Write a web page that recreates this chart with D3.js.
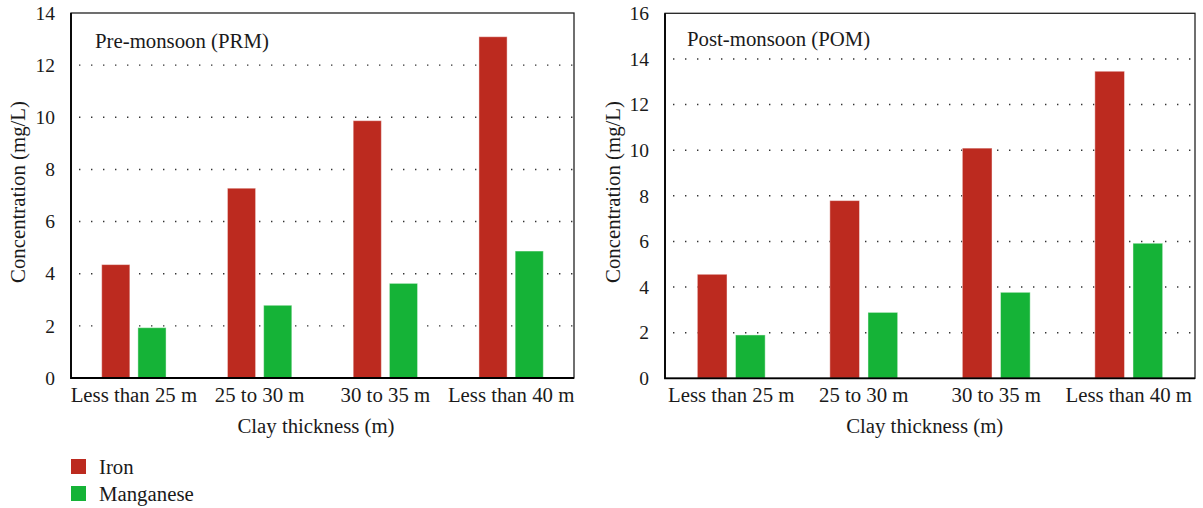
<!DOCTYPE html>
<html>
<head>
<meta charset="utf-8">
<script src="https://cdn.jsdelivr.net/npm/d3@7"></script>
<style>
    body { margin: 0; background: #fff; }
    text { font-family: "Liberation Serif", "DejaVu Serif", serif; fill: #1a1a1a; }
</style>
</head>
<body>
<div id="chart"></div>
<script>
// values
const categories = ["Less than 25 m", "25 to 30 m", "30 to 35 m", "Less than 40 m"];
const series = ["Iron", "Manganese"];
const seriesColors = ["#bc2a1f", "#15b337"];

const preIron = [4.35, 7.28, 9.87, 13.09];
const preManganese = [1.93, 2.79, 3.63, 4.87];
const postIron = [4.56, 7.79, 10.09, 13.46];
const postManganese = [1.90, 2.89, 3.77, 5.92];

const preTicks = [0, 2, 4, 6, 8, 10, 12, 14];
const postTicks = [0, 2, 4, 6, 8, 10, 12, 14, 16];

const fontSize = 20.8;
const tickFontSize = 19.5;

const svg = d3.select("#chart").append("svg")
    .attr("width", 1203)
    .attr("height", 508);

class barPanel {
    constructor(svg, box, opts) {
        this.svg = svg;
        this.box = box; // [left, top, right, bottom]
        this.opts = opts;
    }

    draw() {
        let [left, top, right, bottom] = this.box;
        let opts = this.opts;
        let g = this.svg.append("g");

        let x = d3.scaleBand().domain(categories).range([left, right]);
        let bw = x.bandwidth();
        // two bars per group, small gap between them
        let x1 = d3.scaleBand().domain(series)
            .range([-0.256 * bw, 0.256 * bw])
            .paddingInner(0.222);
        let y = d3.scaleLinear()
            .domain([0, opts.ticks[opts.ticks.length - 1]])
            .range([bottom, top]);

        // dotted grid
        g.append("g").selectAll("line")
            .data(opts.ticks.slice(1, -1))
            .join("line")
            .attr("x1", left + 8)
            .attr("x2", right)
            .attr("y1", d => y(d))
            .attr("y2", d => y(d))
            .attr("stroke", "#333")
            .attr("stroke-width", 1.4)
            .attr("stroke-dasharray", "1.4,10.6");

        // bars
        let rows = categories.map((c, i) => ({ cat: c, vals: [opts.iron[i], opts.manganese[i]] }));
        g.append("g").selectAll("g")
            .data(rows)
            .join("g")
            .attr("transform", d => "translate(" + (x(d.cat) + bw / 2) + ",0)")
            .selectAll("rect")
            .data(d => d.vals.map((v, j) => ({ s: series[j], v: v, j: j })))
            .join("rect")
            .attr("x", d => x1(d.s))
            .attr("width", x1.bandwidth())
            .attr("y", d => y(d.v))
            .attr("height", d => bottom - y(d.v))
            .attr("fill", d => seriesColors[d.j])
            .attr("stroke", "#fff")
            .attr("stroke-opacity", 0.45)
            .attr("stroke-width", 1);

        // frame
        g.append("rect")
            .attr("x", left)
            .attr("y", top)
            .attr("width", right - left)
            .attr("height", bottom - top)
            .attr("fill", "none")
            .attr("stroke", "#222")
            .attr("stroke-width", 1.3);
        g.append("path")
            .attr("d", "M" + left + "," + top + "V" + bottom + "H" + right)
            .attr("fill", "none")
            .attr("stroke", "#000")
            .attr("stroke-width", 1.8);

        // axes
        let yAxis = g.append("g")
            .attr("transform", "translate(" + left + ",0)")
            .call(d3.axisLeft(y).tickValues(opts.ticks).tickSize(0).tickPadding(16));
        yAxis.select(".domain").remove();
        yAxis.selectAll("text").attr("font-size", tickFontSize).style("font-family", null);

        let xAxis = g.append("g")
            .attr("transform", "translate(0," + bottom + ")")
            .call(d3.axisBottom(x).tickSize(0).tickPadding(9));
        xAxis.select(".domain").remove();
        xAxis.selectAll("text").attr("font-size", fontSize).style("font-family", null);

        // titles
        g.append("text")
            .attr("x", opts.xTitlePos[0])
            .attr("y", opts.xTitlePos[1])
            .attr("font-size", fontSize)
            .attr("text-anchor", "middle")
            .text("Clay thickness (m)");
        g.append("text")
            .attr("transform", "translate(" + opts.yTitlePos[0] + "," + opts.yTitlePos[1] + ") rotate(-90)")
            .attr("font-size", fontSize)
            .attr("text-anchor", "middle")
            .text("Concentration (mg/L)");
        g.append("text")
            .attr("x", opts.labelPos[0])
            .attr("y", opts.labelPos[1])
            .attr("font-size", fontSize)
            .text(opts.label);
    }
}

new barPanel(svg, [71, 13, 574, 378], {
    iron: preIron,
    manganese: preManganese,
    ticks: preTicks,
    label: "Pre-monsoon (PRM)",
    labelPos: [95, 48],
    xTitlePos: [316, 433],
    yTitlePos: [25, 192]
}).draw();

new barPanel(svg, [665, 13.3, 1195, 378.3], {
    iron: postIron,
    manganese: postManganese,
    ticks: postTicks,
    label: "Post-monsoon (POM)",
    labelPos: [687, 46],
    xTitlePos: [924.7, 433],
    yTitlePos: [620, 192]
}).draw();

// legend
let legend = svg.append("g").attr("transform", "translate(71,459)");
let items = legend.selectAll("g")
    .data(series)
    .join("g")
    .attr("transform", (d, i) => "translate(0," + (i * 27) + ")");
items.append("rect")
    .attr("width", 15)
    .attr("height", 15)
    .attr("fill", (d, i) => seriesColors[i]);
items.append("text")
    .attr("x", 28)
    .attr("y", 15)
    .attr("font-size", fontSize)
    .text(d => d);
</script>
</body>
</html>
